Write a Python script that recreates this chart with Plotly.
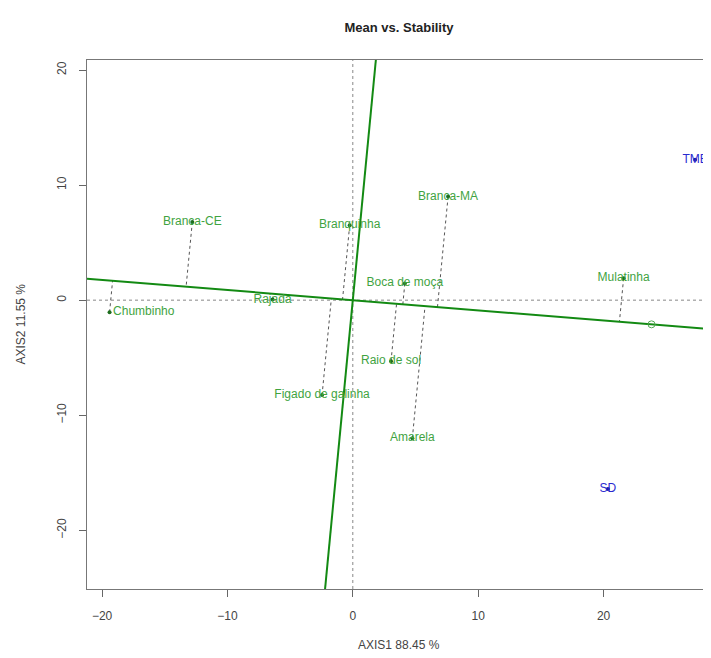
import plotly.graph_objects as go

# ---- data ----
genotypes = ["Branca-CE", "Branquinha", "Branca-MA", "Boca de moça", "Mulatinha",
             "Rajada", "Chumbinho", "Raio de sol", "Figado de galinha", "Amarela"]
gen_x = [-12.8, -0.25, 7.6, 4.15, 21.6, -6.4, -19.4, 3.05, -2.45, 4.75]
gen_y = [6.8, 6.5, 9.0, 1.45, 1.9, 0.05, -1.05, -5.3, -8.25, -12.0]
gen_textpos = ["middle center"] * 6 + ["middle right"] + ["middle center"] * 3

environments = ["TME", "SD"]
env_x = [27.3, 20.35]
env_y = [12.2, -16.4]

x_ticks = [-20, -10, 0, 10, 20]
y_ticks = [-20, -10, 0, 10, 20]

title = "Mean vs. Stability"
x_title = "AXIS1 88.45 %"
y_title = "AXIS2 11.55 %"

# ---- layout constants (page has an 8px body margin) ----
XR = [-21.2, 28.57]
YR = [-25.1, 20.87]
W, H = 703, 650
ML, MR, MT, MB = 79, 0, 52, 69

GREEN_TXT = "#3fa33f"
GREEN_LINE = "#138a13"
BLUE = "#2a2ad0"
FONT = "Liberation Sans, Arial"

# average environment coordinate
ax_ = sum(env_x) / len(env_x)
ay_ = sum(env_y) / len(env_y)
norm = (ax_ ** 2 + ay_ ** 2) ** 0.5
ux, uy = ax_ / norm, ay_ / norm

# AEA abscissa line across x range
t0, t1 = XR[0] / ux, XR[1] / ux
aea_x = [t0 * ux, t1 * ux]
aea_y = [t0 * uy, t1 * uy]
# AEA ordinate (perpendicular) across y range
px_, py_ = -uy, ux
s0, s1 = YR[0] / py_, YR[1] / py_
ord_x = [s0 * px_, s1 * px_]
ord_y = [s0 * py_, s1 * py_]

# projections of genotypes onto AEA
proj_x, proj_y = [], []
for x, y in zip(gen_x, gen_y):
    d = x * ux + y * uy
    proj_x += [x, d * ux, None]
    proj_y += [y, d * uy, None]

fig = go.Figure()

# dotted reference axes
fig.add_trace(go.Scatter(x=XR, y=[0, 0], mode="lines",
                         line=dict(color="#888888", width=1, dash="dot"),
                         hoverinfo="skip", showlegend=False))
fig.add_trace(go.Scatter(x=[0, 0], y=YR, mode="lines",
                         line=dict(color="#888888", width=1, dash="dot"),
                         hoverinfo="skip", showlegend=False))

# projection lines
fig.add_trace(go.Scatter(x=proj_x, y=proj_y, mode="lines",
                         line=dict(color="#555555", width=1, dash="dot"),
                         hoverinfo="skip", showlegend=False))

# AEA lines
fig.add_trace(go.Scatter(x=aea_x, y=aea_y, mode="lines",
                         line=dict(color=GREEN_LINE, width=2),
                         hoverinfo="skip", showlegend=False))
fig.add_trace(go.Scatter(x=ord_x, y=ord_y, mode="lines",
                         line=dict(color=GREEN_LINE, width=2),
                         hoverinfo="skip", showlegend=False))

# average environment marker
fig.add_trace(go.Scatter(x=[ax_], y=[ay_], mode="markers",
                         marker=dict(symbol="circle-open", size=7,
                                     color="#55aa55", line=dict(width=1)),
                         showlegend=False))

# genotypes
fig.add_trace(go.Scatter(x=gen_x, y=gen_y, mode="markers+text",
                         text=genotypes, textposition=gen_textpos,
                         textfont=dict(family=FONT, size=12, color=GREEN_TXT),
                         marker=dict(size=4, color="#1e6e1e"),
                         showlegend=False))

# environments
fig.add_trace(go.Scatter(x=env_x, y=env_y, mode="markers+text",
                         text=environments, textposition="middle center",
                         textfont=dict(family=FONT, size=12, color=BLUE),
                         marker=dict(size=4, color="#1a1aa0"),
                         showlegend=False))

axis_common = dict(showgrid=False, zeroline=False, ticks="outside", ticklen=7,
                   tickcolor="#666666", linecolor="#777777", linewidth=1,
                   showline=True, automargin=False,
                   tickfont=dict(family=FONT, size=12, color="#444444"))

fig.update_layout(
    width=W, height=H,
    margin=dict(l=ML, r=MR, t=MT, b=MB, autoexpand=False),
    paper_bgcolor="white", plot_bgcolor="white",
    title=dict(text="<b>" + title + "</b>", x=0.5, xref="paper",
               y=1 - 19 / H, yref="container", yanchor="middle", xanchor="center",
               font=dict(family=FONT, size=13, color="#222222")),
    xaxis=dict(range=XR, tickvals=x_ticks, mirror=True, ticklabelstandoff=9,
               **axis_common),
    yaxis=dict(range=YR, tickvals=y_ticks, tickangle=-90, mirror=False,
               ticklabelstandoff=8, **axis_common),
    annotations=[
        dict(text=x_title, xref="paper", yref="paper", x=0.5, y=0,
             xanchor="center", yanchor="middle", yshift=-56, showarrow=False,
             font=dict(family=FONT, size=12, color="#444444")),
        dict(text=y_title, xref="paper", yref="paper", x=0, y=0.5,
             xanchor="center", yanchor="middle", xshift=-67, textangle=-90,
             showarrow=False,
             font=dict(family=FONT, size=12, color="#444444")),
    ],
)

fig.write_html("out.html")
